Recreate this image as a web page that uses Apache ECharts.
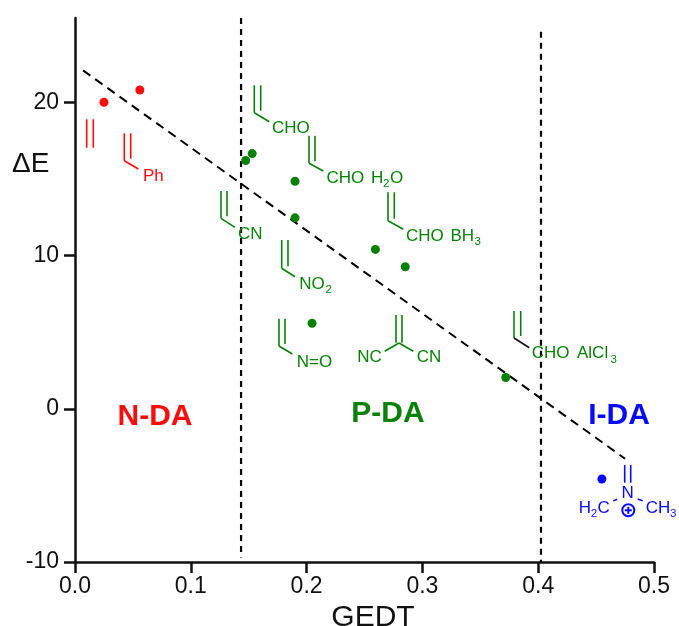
<!DOCTYPE html>
<html><head><meta charset="utf-8">
<style>html,body{margin:0;padding:0;background:#fff}#c{width:679px;height:626px}</style>
<script src="https://cdn.jsdelivr.net/npm/echarts@6/dist/echarts.min.js"></script>
</head><body><div id="c"></div>
<script>
const xTicks = [0, 0.1, 0.2, 0.3, 0.4, 0.5];
const yTicks = [-10, 0, 10, 20];
const normalPts = [[0.025, 20.0], [0.056, 20.8]];
const polarPts = [[0.1474, 16.2], [0.153, 16.65], [0.19, 14.85], [0.19, 12.46], [0.2594, 10.4], [0.2852, 9.27], [0.2047, 5.58], [0.372, 2.04]];
const inversePts = [[0.455, -4.58]];
const trendLine = [[0.0069, 22.08], [0.475, -3.26]];
const boundaryA = [[0.1434, 25.5], [0.1434, -9.7]];
const boundaryB = [[0.4024, 24.6], [0.4024, -10]];

const RED = '#fb0d0d', GREEN = '#0a800a', BLUE = '#0a0afa', FONT = '"Liberation Sans", Arial, sans-serif';
const TICKFONT = '"Liberation Sans Narrow", "Liberation Sans", Arial, sans-serif';
const CHEM = 17;

function seg(x1, y1, x2, y2, color, w) {
  return { type: 'line', silent: true, z: 5, shape: { x1, y1, x2, y2 }, style: { stroke: color, lineWidth: w || 1.6 } };
}
function txt(x, y, text, color, size, weight, align) {
  return { type: 'text', silent: true, z: 6, x, y: y + 1, style: { text, fill: color, font: (weight || 'normal') + ' ' + (size || CHEM) + 'px ' + FONT, textAlign: align || 'left', textVerticalAlign: 'middle' } };
}
function sub(x, y, text, color) { return txt(x, y + 6, text, color, 11.5); }
// terminal alkene: two parallel strokes plus the substituent bond
function vinyl(xa, xb, top, bottom, ex, ey, color, tail) {
  return [
    seg(xa, top, xa, bottom, color),
    seg(xb, top, xb, bottom - 2, color),
    seg(xa, bottom, ex, ey, tail || color)
  ];
}

const annotations = [
  txt(12, 163, 'ΔE', '#111', 28),
  txt(155, 416, 'N-DA', RED, 30, 'bold', 'center'),
  txt(388, 413, 'P-DA', GREEN, 30, 'bold', 'center'),
  txt(619, 415, 'I-DA', BLUE, 30, 'bold', 'center'),

  seg(86.7, 119.3, 86.7, 147.7, RED), seg(93.3, 119.3, 93.3, 147.7, RED),
  ...vinyl(124.3, 130.7, 133.3, 160.7, 138.3, 169, RED),
  txt(143, 175, 'Ph', RED),

  ...vinyl(254.3, 260.7, 85.3, 112.7, 269.3, 121.7, GREEN),
  txt(272, 127, 'CHO', GREEN),
  ...vinyl(309, 315, 135.7, 163.3, 323.3, 171, GREEN),
  txt(326.5, 177, 'CHO', GREEN),
  txt(371, 177, 'H', GREEN), sub(383, 177, '2', GREEN), txt(390, 177, 'O', GREEN),
  ...vinyl(221, 227, 191, 218.3, 235, 227.3, GREEN),
  txt(238, 233, 'CN', GREEN),
  ...vinyl(388, 394.3, 192.3, 220.7, 403.3, 229.3, GREEN),
  txt(406, 235, 'CHO', GREEN),
  txt(450.5, 235, 'BH', GREEN), sub(474.5, 235, '3', GREEN),
  ...vinyl(281.7, 288, 240, 268.3, 295, 276.7, GREEN),
  txt(299.3, 283, 'NO', GREEN), sub(325.5, 283, '2', GREEN),
  ...vinyl(279, 285, 318.7, 346, 292.3, 354, GREEN),
  txt(296.7, 361, 'N=O', GREEN),
  seg(396, 315, 396, 342.7, GREEN), seg(402, 315, 402, 342.7, GREEN),
  seg(399, 343, 384.7, 351.3, GREEN), seg(399, 343, 413.3, 351.3, GREEN),
  txt(357.3, 356.7, 'NC', GREEN), txt(416.7, 356.7, 'CN', GREEN),
  ...vinyl(514, 520.7, 311, 338, 529.3, 347.7, GREEN, '#111'),
  txt(531.7, 352.7, 'CHO', GREEN),
  txt(577, 352.7, 'AlCl', GREEN), sub(610.5, 352.7, '3', GREEN),

  seg(624.7, 465, 624.7, 482.7, BLUE), seg(630.7, 465, 630.7, 482.7, BLUE),
  txt(627.7, 492.7, 'N', BLUE, CHEM, 'normal', 'center'),
  txt(578.7, 507.3, 'H', BLUE), sub(590.7, 507.3, '2', BLUE), txt(597.5, 507.3, 'C', BLUE),
  txt(645.7, 507.3, 'CH', BLUE), sub(670, 507.3, '3', BLUE),
  seg(613.3, 500.7, 617.3, 499.3, BLUE), seg(637.7, 499, 642.7, 500.7, BLUE),
  { type: 'circle', silent: true, z: 6, shape: { cx: 628.3, cy: 510.3, r: 6 }, style: { fill: 'none', stroke: BLUE, lineWidth: 2 } },
  seg(624.8, 510.3, 631.8, 510.3, BLUE, 2), seg(628.3, 506.8, 628.3, 513.8, BLUE, 2)
];

function dots(data, color) {
  return { type: 'scatter', data, symbol: 'circle', symbolSize: 9, itemStyle: { color, opacity: 1 }, z: 4 };
}
function dashed(data, width, dash) {
  return { type: 'line', data, showSymbol: false, silent: true, z: 3, lineStyle: { color: '#000', width, type: dash } };
}
const axisLine = { show: true, onZero: false, lineStyle: { color: '#111', width: 2.5 } };
const tick = { show: true, length: 11, lineStyle: { color: '#111', width: 2.5 } };

echarts.init(document.getElementById('c'), null, { renderer: 'canvas' }).setOption({
  animation: false,
  backgroundColor: '#fff',
  grid: { left: 75, right: 25, top: 18, bottom: 64, outerBoundsMode: 'none' },
  xAxis: {
    type: 'value', min: 0, max: 0.5, interval: 0.1, splitLine: { show: false },
    axisLine, axisTick: tick,
    axisLabel: { color: '#111', fontFamily: TICKFONT, fontSize: 23, margin: 13, formatter: v => v.toFixed(1), customValues: xTicks },
    name: 'GEDT', nameLocation: 'middle', nameGap: 39,
    nameTextStyle: { color: '#111', fontFamily: FONT, fontSize: 30, padding: [0, 0, 0, 17] }
  },
  yAxis: {
    type: 'value', min: -10, max: 25.5, splitLine: { show: false },
    axisLine, axisTick: { ...tick, customValues: yTicks },
    axisLabel: { color: '#111', fontFamily: TICKFONT, fontSize: 23, margin: 16, customValues: yTicks, showMaxLabel: true }
  },
  series: [
    dashed(trendLine, 2, [9, 6]),
    dashed(boundaryA, 2.2, [6, 5]),
    dashed(boundaryB, 2.2, [6, 5]),
    dots(normalPts, RED), dots(polarPts, GREEN), dots(inversePts, BLUE)
  ],
  graphic: { elements: annotations }
});
</script>
</body></html>
